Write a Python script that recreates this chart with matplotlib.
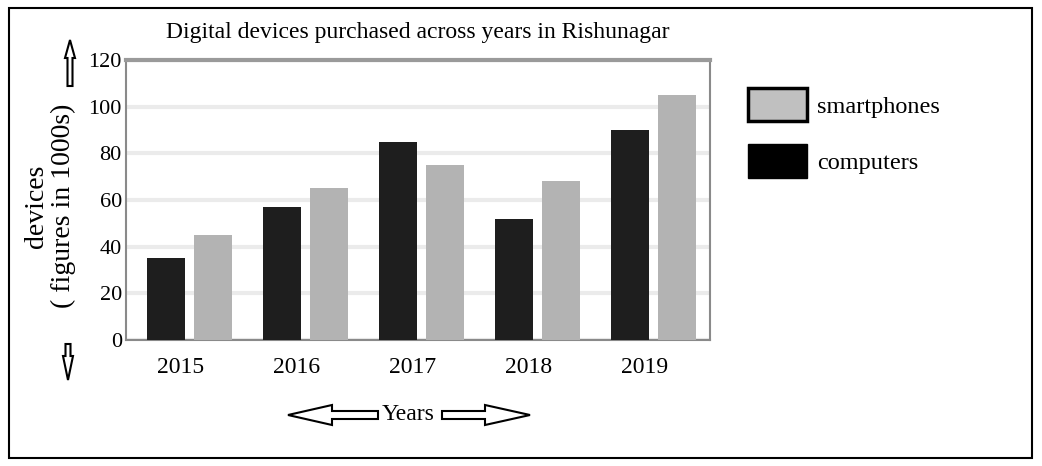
import matplotlib
matplotlib.use("Agg")
import matplotlib.pyplot as plt
import numpy as np
from matplotlib.patches import FancyArrow, Patch, Rectangle

years = ["2015", "2016", "2017", "2018", "2019"]
computers = [35, 57, 85, 52, 90]
smartphones = [45, 65, 75, 68, 105]
y_ticks = [0, 20, 40, 60, 80, 100, 120]

plt.rcParams["font.family"] = ["Liberation Serif", "DejaVu Serif"]

W, H = 1042, 466
fig = plt.figure(figsize=(W / 100, H / 100), dpi=100)

ax = fig.add_axes([126 / W, 1 - 340 / H, 584 / W, 280 / H])
x = np.arange(len(years))
bw = 0.33
ax.bar(x - 0.2, computers, width=bw, color="#1e1e1e", zorder=3)
ax.bar(x + 0.2, smartphones, width=bw, color="#b3b3b3", zorder=3)

ax.set_xlim(-0.547, 4.487)
ax.set_ylim(0, 120)
ax.set_yticks(y_ticks)
ax.set_yticklabels([str(v) for v in y_ticks], fontsize=16)
ax.set_xticks(x - 0.08)
ax.set_xticklabels(years, fontsize=17)
ax.tick_params(axis="both", length=0)
ax.tick_params(axis="x", pad=12)
ax.tick_params(axis="y", pad=3)
ax.yaxis.grid(True, color="#ebebeb", linewidth=3, zorder=0)
ax.set_axisbelow(True)
for side in ["left", "right", "bottom"]:
    ax.spines[side].set_color("#8a8a8a")
    ax.spines[side].set_linewidth(1.5)
ax.spines["top"].set_color("#9a9a9a")
ax.spines["top"].set_linewidth(3)

ax.set_ylabel("devices\n( figures in 1000s)", fontsize=20, linespacing=1.1)
ax.yaxis.set_label_coords(-0.085, 0.479)
ax.set_title("Digital devices purchased across years in Rishunagar", fontsize=17, pad=16)

handles = [
    Patch(facecolor="#c0c0c0", edgecolor="black", linewidth=2.5, label="smartphones"),
    Patch(facecolor="black", edgecolor="black", label="computers"),
]
fig.legend(handles=handles, loc="upper left", bbox_to_anchor=(748 / W, 1 - 88 / H),
           frameon=False, fontsize=17.5, handlelength=2.43, handleheight=1.73,
           labelspacing=0.95, handletextpad=0.41, borderpad=0, borderaxespad=0)

# overlay in pixel units for the border, arrows and axis caption
ov = fig.add_axes([0, 0, 1, 1], facecolor="none")
ov.set_xlim(0, W)
ov.set_ylim(H, 0)
ov.axis("off")
ov.add_patch(Rectangle((9, 8), 1023, 450, fill=False, edgecolor="black", linewidth=1.5))

arrow_kw = dict(facecolor="white", edgecolor="black", linewidth=1.5, length_includes_head=True)
ov.add_patch(FancyArrow(70, 86, 0, -46, width=5, head_width=10, head_length=18, **arrow_kw))
ov.add_patch(FancyArrow(68, 344, 0, 36, width=5, head_width=10, head_length=24, **arrow_kw))
ov.add_patch(FancyArrow(378, 415, -90, 0, width=8, head_width=20, head_length=44, **arrow_kw))
ov.add_patch(FancyArrow(442, 415, 88, 0, width=8, head_width=20, head_length=45, **arrow_kw))
ov.text(408, 414, "Years", fontsize=17, ha="center", va="center")

fig.savefig("out.png", dpi=100)
